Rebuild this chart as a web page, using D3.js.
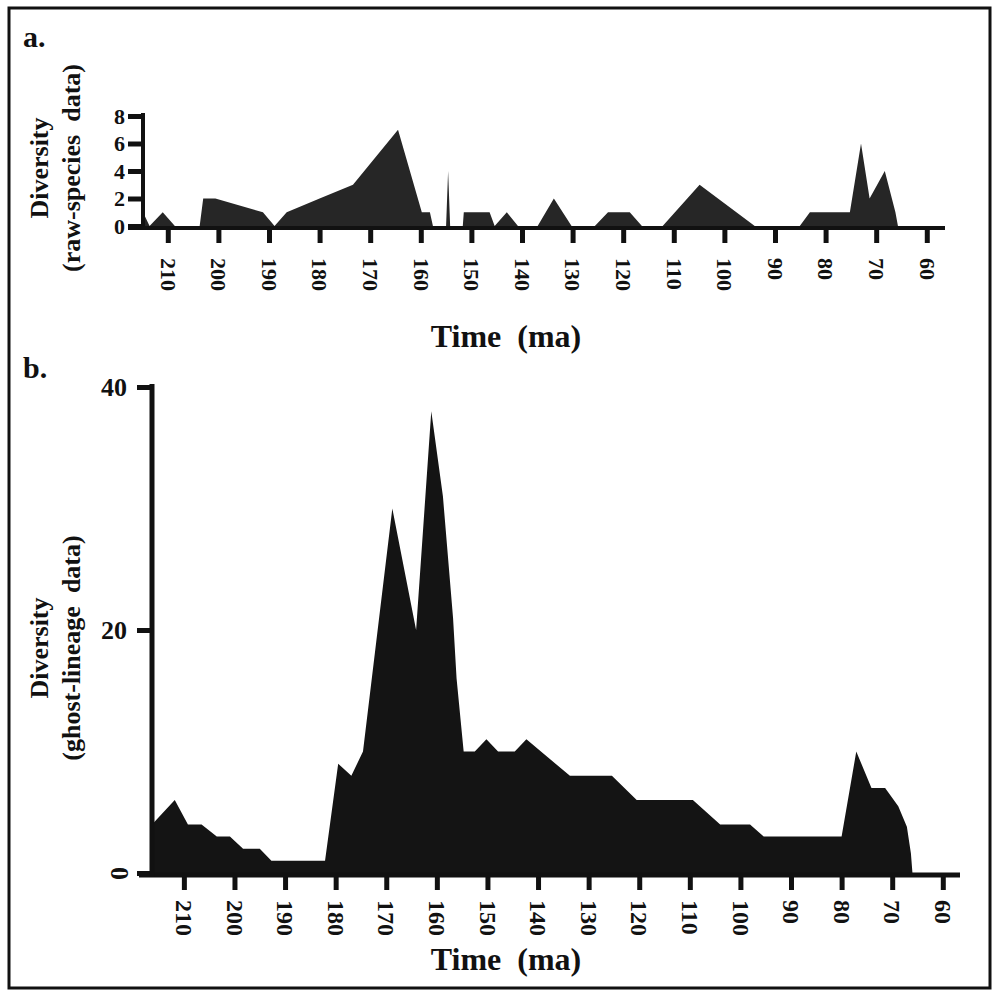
<!DOCTYPE html>
<html>
<head>
<meta charset="utf-8">
<script src="https://cdnjs.cloudflare.com/ajax/libs/d3/7.8.5/d3.min.js"></script>
<style>
  html, body { margin: 0; padding: 0; background: #fff; }
  svg { display: block; }
</style>
</head>
<body>
<div id="chart"></div>
<script>
// Diversity through time, two panels: raw species counts and ghost-lineage counts.
// Each point is [time in ma, diversity].

var timeTicks = [210, 200, 190, 180, 170, 160, 150, 140, 130, 120, 110, 100, 90, 80, 70, 60];

var rawTicks = [0, 2, 4, 6, 8];
var rawSpecies = [
  [214.9, 1], [213.6, 0], [211, 1], [208.6, 0], [203.7, 0], [203, 2], [200.6, 2],
  [191.2, 1], [188.9, 0], [186.5, 1], [180, 2], [173.4, 3], [164.5, 7], [159.8, 1],
  [158.2, 1], [157.6, 0], [155, 0], [154.6, 4], [154.2, 0], [151.7, 0], [151.5, 1],
  [146.4, 1], [145.4, 0], [143, 1], [140.8, 0], [136.9, 0], [133.7, 2], [130.2, 0],
  [125.6, 0], [123, 1], [118.7, 1], [116.3, 0], [112.2, 0], [104.9, 3], [94, 0],
  [85.1, 0], [83.1, 1], [75.2, 1], [73, 6], [71.3, 2], [68.3, 4], [66.2, 1], [65.7, 0]
];

var ghostTicks = [0, 20, 40];
var ghostLineage = [
  [216.3, 4], [211.8, 6], [209.2, 4], [206.5, 4], [203.5, 3], [200.9, 3], [198.3, 2],
  [195, 2], [192.7, 1], [182.1, 1], [179.5, 9], [176.9, 8], [174.6, 10], [168.8, 30],
  [164.1, 20], [161.1, 38], [158.8, 31], [156.8, 21], [156.1, 16], [154.7, 10],
  [152.5, 10], [150.2, 11], [147.9, 10], [144.6, 10], [142.3, 11], [133.7, 8],
  [125.4, 8], [120.5, 6], [109.4, 6], [104, 4], [98.1, 4], [95.4, 3], [80, 3],
  [77.1, 10], [74.1, 7], [71.4, 7], [68.8, 5.5], [67.1, 3.8], [66.3, 1.6], [66, 0]
];

(function () {
  'use strict';

  var FONT = '"Liberation Serif", "Times New Roman", serif';
  var W = 995, H = 992;

  var svg = d3.select('#chart').append('svg')
    .attr('width', W)
    .attr('height', H);

  svg.append('rect')
    .attr('x', 0).attr('y', 0).attr('width', W).attr('height', H)
    .attr('fill', '#fff');

  // outer frame
  svg.append('rect')
    .attr('x', 9).attr('y', 8).attr('width', 981).attr('height', 980)
    .attr('fill', 'none')
    .attr('stroke', '#111')
    .attr('stroke-width', 3);

  // one panel = area + axes + labels
  function drawPanel(opt) {
    var x = d3.scaleLinear().domain(opt.xDomain).range(opt.xRange);
    var y = d3.scaleLinear().domain(opt.yDomain).range(opt.yRange);
    var g = svg.append('g');

    var area = d3.area()
      .x(function (d) { return x(d[0]); })
      .y0(y(0))
      .y1(function (d) { return y(d[1]); });

    g.append('path')
      .datum(opt.data)
      .attr('d', area)
      .attr('fill', opt.fill);

    var baseY = y(0) + 2;

    // x axis
    var xAxis = g.append('g')
      .attr('transform', 'translate(0,' + baseY + ')')
      .call(d3.axisBottom(x).tickValues(timeTicks).tickSize(15).tickSizeOuter(0));
    xAxis.select('.domain').remove();
    xAxis.selectAll('.tick line')
      .attr('stroke', '#111')
      .attr('stroke-width', 5);
    xAxis.selectAll('.tick text')
      .attr('transform', 'rotate(90)')
      .attr('x', opt.xLabelOffset)
      .attr('y', 0)
      .attr('dy', '0.35em')
      .attr('text-anchor', 'start')
      .attr('fill', '#111')
      .attr('font-family', FONT)
      .attr('font-weight', 'bold')
      .attr('font-size', opt.xTickSize + 'px');

    g.append('line')
      .attr('x1', opt.xLineStart).attr('x2', opt.xLineEnd)
      .attr('y1', baseY).attr('y2', baseY)
      .attr('stroke', '#111')
      .attr('stroke-width', opt.axisWidth);

    // y axis
    var yAxis = g.append('g')
      .attr('transform', 'translate(' + opt.xRange[0] + ',0)')
      .call(d3.axisLeft(y).tickValues(opt.yTicks).tickSize(15).tickPadding(opt.yPad).tickSizeOuter(0));
    yAxis.select('.domain').remove();
    yAxis.selectAll('.tick line')
      .attr('stroke', '#111')
      .attr('stroke-width', 5);
    yAxis.selectAll('.tick text')
      .attr('fill', '#111')
      .attr('font-family', FONT)
      .attr('font-weight', 'bold')
      .attr('font-size', opt.yTickSize + 'px');

    g.append('line')
      .attr('x1', opt.xRange[0]).attr('x2', opt.xRange[0])
      .attr('y1', opt.yRange[1] - 3).attr('y2', baseY + 2)
      .attr('stroke', '#111')
      .attr('stroke-width', opt.axisWidth);

    // axis titles
    var title = g.append('text')
      .attr('transform', 'translate(' + opt.titleX + ',' + opt.titleY + ') rotate(-90)')
      .attr('text-anchor', 'middle')
      .attr('fill', '#111')
      .attr('font-family', FONT)
      .attr('font-weight', 'bold')
      .attr('font-size', '26px');
    title.append('tspan').attr('x', 0).attr('dy', 0).text('Diversity');
    title.append('tspan').attr('x', 0).attr('dy', 32)
      .style('white-space', 'pre')
      .text(opt.subtitle);

    g.append('text')
      .attr('x', 506)
      .attr('y', opt.timeY)
      .attr('text-anchor', 'middle')
      .attr('fill', '#111')
      .attr('font-family', FONT)
      .attr('font-weight', 'bold')
      .attr('font-size', '32px')
      .style('white-space', 'pre')
      .text('Time  (ma)');

    g.append('text')
      .attr('x', 23)
      .attr('y', opt.letterY)
      .attr('fill', '#111')
      .attr('font-family', FONT)
      .attr('font-weight', 'bold')
      .attr('font-size', '30px')
      .text(opt.letter);

    return { g: g, x: x, y: y, yAxis: yAxis };
  }

  drawPanel({
    data: rawSpecies,
    xDomain: [214.9, 56.4], xRange: [143, 945],
    yDomain: [0, 8], yRange: [226, 116],
    yTicks: rawTicks, yPad: 3,
    xLineStart: 128, xLineEnd: 945,
    axisWidth: 4,
    xLabelOffset: 30, xTickSize: 22, yTickSize: 22,
    fill: '#262626',
    titleX: 48, titleY: 168,
    subtitle: '(raw-species  data)',
    timeY: 347,
    letter: 'a.', letterY: 47
  });

  var b = drawPanel({
    data: ghostLineage,
    xDomain: [216.3, 56.6], xRange: [152, 960],
    yDomain: [0, 40], yRange: [873, 387],
    yTicks: ghostTicks, yPad: 10,
    xLineStart: 139, xLineEnd: 960,
    axisWidth: 5,
    xLabelOffset: 25, xTickSize: 24, yTickSize: 26,
    fill: '#141414',
    titleX: 48, titleY: 648,
    subtitle: '(ghost-lineage  data)',
    timeY: 970,
    letter: 'b.', letterY: 378
  });

  // the zero label in panel b is set sideways like the time labels
  b.yAxis.selectAll('.tick text')
    .filter(function (d) { return d === 0; })
    .attr('x', 0).attr('dy', 0)
    .attr('text-anchor', 'middle')
    .attr('dominant-baseline', 'central')
    .attr('transform', 'translate(-33,0) rotate(90)');
})();
</script>
</body>
</html>
